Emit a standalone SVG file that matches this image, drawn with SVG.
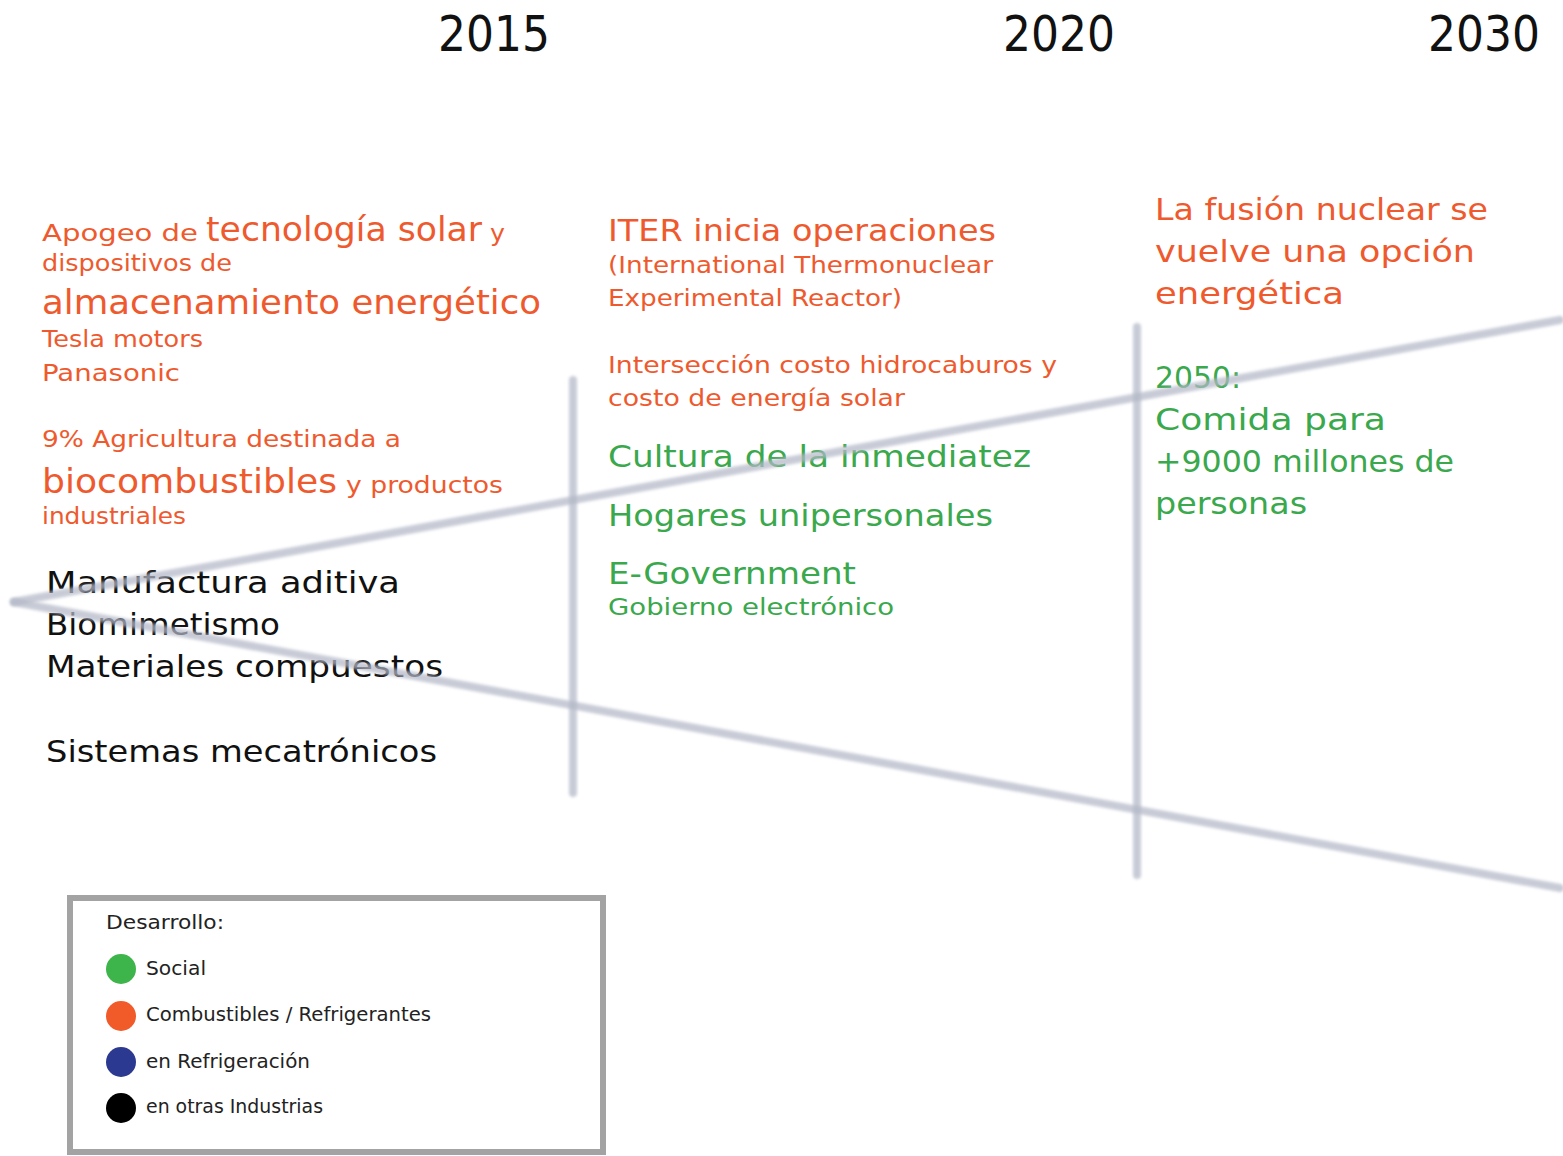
<svg xmlns="http://www.w3.org/2000/svg" width="1563" height="1156" viewBox="0 0 1563 1156">
<defs>
<filter id="soft" filterUnits="userSpaceOnUse" x="0" y="0" width="1563" height="1156"><feGaussianBlur stdDeviation="1.8"/></filter>
<style>
text{font-family:"DejaVu Sans","Liberation Sans",sans-serif;}
.yr{font-size:50px;fill:#111;}
.or{fill:#ee5a2e;}
.gr{fill:#3aa84c;}
.bk{fill:#111;}
.s{font-size:23px;}
.m{font-size:31px;}
.l{font-size:33px;}
.lg{font-size:20px;fill:#222;}
.cn{stroke:#b3b8c7;stroke-width:8;stroke-linecap:round;fill:none;opacity:0.72;filter:url(#soft);}
</style>
</defs>
<rect width="1563" height="1156" fill="#fff"/>

<g id="years">
<text class="yr" x="438" y="51" textLength="112" lengthAdjust="spacingAndGlyphs">2015</text>
<text class="yr" x="1003" y="51" textLength="112" lengthAdjust="spacingAndGlyphs">2020</text>
<text class="yr" x="1428" y="51" textLength="112" lengthAdjust="spacingAndGlyphs">2030</text>
</g>

<g id="col2015-energy" class="or">
<text y="241"><tspan class="s" x="42" textLength="156" lengthAdjust="spacingAndGlyphs">Apogeo de</tspan><tspan class="l" x="206" textLength="276" lengthAdjust="spacingAndGlyphs">tecnología solar</tspan><tspan class="s" x="490" textLength="15" lengthAdjust="spacingAndGlyphs">y</tspan></text>
<text class="s" x="42" y="271" textLength="190" lengthAdjust="spacingAndGlyphs">dispositivos de</text>
<text class="l" x="42" y="314" textLength="499" lengthAdjust="spacingAndGlyphs">almacenamiento energético</text>
<text class="s" x="42" y="347" textLength="161" lengthAdjust="spacingAndGlyphs">Tesla motors</text>
<text class="s" x="42" y="381" textLength="138" lengthAdjust="spacingAndGlyphs">Panasonic</text>
<text class="s" x="42" y="447" textLength="359" lengthAdjust="spacingAndGlyphs">9% Agricultura destinada a</text>
<text y="493"><tspan class="l" x="42" textLength="295" lengthAdjust="spacingAndGlyphs">biocombustibles</tspan><tspan class="s" x="346" textLength="157" lengthAdjust="spacingAndGlyphs">y productos</tspan></text>
<text class="s" x="42" y="524" textLength="144" lengthAdjust="spacingAndGlyphs">industriales</text>
</g>

<g id="col2015-industry" class="bk">
<text class="m" x="46" y="593" textLength="354" lengthAdjust="spacingAndGlyphs">Manufactura aditiva</text>
<text class="m" x="46" y="635" textLength="234" lengthAdjust="spacingAndGlyphs">Biomimetismo</text>
<text class="m" x="46" y="677" textLength="397" lengthAdjust="spacingAndGlyphs">Materiales compuestos</text>
<text class="m" x="46" y="762" textLength="391" lengthAdjust="spacingAndGlyphs">Sistemas mecatrónicos</text>
</g>

<g id="col2020-energy" class="or">
<text class="m" x="608" y="241" textLength="388" lengthAdjust="spacingAndGlyphs">ITER inicia operaciones</text>
<text class="s" x="608" y="273" textLength="385" lengthAdjust="spacingAndGlyphs">(International Thermonuclear</text>
<text class="s" x="608" y="306" textLength="294" lengthAdjust="spacingAndGlyphs">Experimental Reactor)</text>
<text class="s" x="608" y="373" textLength="449" lengthAdjust="spacingAndGlyphs">Intersección costo hidrocaburos y</text>
<text class="s" x="608" y="406" textLength="297" lengthAdjust="spacingAndGlyphs">costo de energía solar</text>
</g>

<g id="col2020-social" class="gr">
<text class="m" x="608" y="467" textLength="423" lengthAdjust="spacingAndGlyphs">Cultura de la inmediatez</text>
<text class="m" x="608" y="526" textLength="385" lengthAdjust="spacingAndGlyphs">Hogares unipersonales</text>
<text class="m" x="608" y="584" textLength="248" lengthAdjust="spacingAndGlyphs">E-Government</text>
<text class="s" x="608" y="615" textLength="286" lengthAdjust="spacingAndGlyphs">Gobierno electrónico</text>
</g>

<g id="col2030-energy" class="or">
<text class="m" x="1155" y="220" textLength="333" lengthAdjust="spacingAndGlyphs">La fusión nuclear se</text>
<text class="m" x="1155" y="262" textLength="320" lengthAdjust="spacingAndGlyphs">vuelve una opción</text>
<text class="m" x="1155" y="304" textLength="189" lengthAdjust="spacingAndGlyphs">energética</text>
</g>

<g id="col2030-social" class="gr">
<text class="m" x="1155" y="388" textLength="86" lengthAdjust="spacingAndGlyphs">2050:</text>
<text class="m" x="1155" y="430" textLength="231" lengthAdjust="spacingAndGlyphs">Comida para</text>
<text class="m" x="1155" y="472" textLength="299" lengthAdjust="spacingAndGlyphs">+9000 millones de</text>
<text class="m" x="1155" y="514" textLength="152" lengthAdjust="spacingAndGlyphs">personas</text>
</g>

<g id="connectors">
<line class="cn" x1="14" y1="602" x2="1560" y2="320"/>
<line class="cn" x1="14" y1="602" x2="1560" y2="888"/>
<line class="cn" x1="573" y1="380" x2="573" y2="793"/>
<line class="cn" x1="1137" y1="327" x2="1137" y2="875"/>
</g>

<g id="legend">
<rect x="70" y="898" width="533" height="254" fill="#fff" stroke="#a3a3a3" stroke-width="6"/>
<text class="lg" x="106" y="929" textLength="118" lengthAdjust="spacingAndGlyphs">Desarrollo:</text>
<circle cx="121" cy="969" r="15" fill="#3db54a"/>
<text class="lg" x="146" y="975" textLength="60" lengthAdjust="spacingAndGlyphs">Social</text>
<circle cx="121" cy="1016" r="15" fill="#f15a29"/>
<text class="lg" x="146" y="1021" textLength="285" lengthAdjust="spacingAndGlyphs">Combustibles / Refrigerantes</text>
<circle cx="121" cy="1062" r="15" fill="#2b3990"/>
<text class="lg" x="146" y="1068" textLength="164" lengthAdjust="spacingAndGlyphs">en Refrigeración</text>
<circle cx="121" cy="1108" r="15" fill="#000"/>
<text class="lg" x="146" y="1113" textLength="177" lengthAdjust="spacingAndGlyphs">en otras Industrias</text>
</g>
</svg>
